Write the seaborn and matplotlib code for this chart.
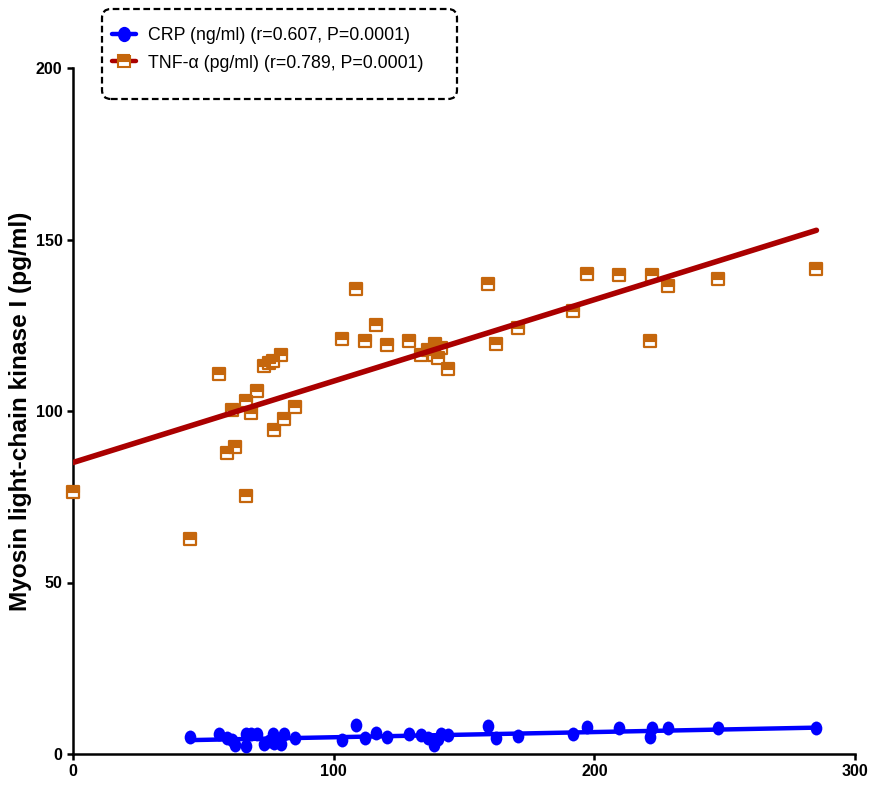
import numpy as np
import pandas as pd
import matplotlib
matplotlib.use("Agg")
import matplotlib.pyplot as plt
from matplotlib import font_manager
from matplotlib.path import Path
from matplotlib.lines import Line2D
from matplotlib.patches import FancyBboxPatch
import seaborn as sns

# ---------------- data ----------------
x_tnf = [0.0, 44.8, 55.9, 59.1, 61.0, 62.3, 66.4, 66.4, 68.4, 70.5, 73.4, 75.1, 76.6, 77.0,
         79.9, 81.1, 85.2, 103.2, 108.7, 111.9, 116.3, 120.5, 128.8, 133.5, 136.3, 138.9,
         141.2, 138.3, 140.2, 144.0, 159.1, 162.2, 170.9, 191.7, 197.0, 209.4, 222.2, 221.4,
         228.4, 247.4, 285.2]
y_tnf = [76.4, 62.6, 110.7, 87.9, 100.2, 89.5, 102.8, 75.2, 99.4, 105.8, 113.2, 113.9, 114.7,
         94.4, 116.3, 97.8, 101.1, 120.9, 135.7, 120.4, 125.2, 119.1, 120.5, 116.3, 117.9,
         119.4, 118.4, 116.2, 115.5, 112.2, 137.1, 119.5, 124.1, 129.3, 140.0, 139.6, 139.6,
         120.3, 136.4, 138.5, 141.3]
x_crp = [44.8, 55.9, 59.1, 61.0, 62.3, 66.4, 66.4, 68.4, 70.5, 73.4, 75.1, 76.6, 77.0,
         79.9, 81.1, 85.2, 103.2, 108.7, 111.9, 116.3, 120.5, 128.8, 133.5, 136.3, 138.9,
         141.2, 138.3, 140.2, 144.0, 159.1, 162.2, 170.9, 191.7, 197.0, 209.4, 222.2, 221.4,
         228.4, 247.4, 285.2]
y_crp = [4.95, 5.7, 4.7, 4.1, 2.5, 5.7, 2.3, 5.7, 5.7, 2.9, 3.8, 5.7, 3.3, 2.9, 5.7, 4.8,
         4.0, 8.5, 4.7, 6.2, 5.0, 5.7, 5.5, 4.6, 4.1, 5.9, 2.6, 4.5, 5.5, 8.2, 4.6, 5.2,
         5.7, 7.9, 7.5, 7.5, 5.0, 7.5, 7.5, 7.5]
labels = ["CRP (ng/ml) (r=0.607, P=0.0001)", "TNF-\u03b1 (pg/ml) (r=0.789, P=0.0001)"]
ylabel = "Myosin light-chain kinase I (pg/ml)"
xticks = [0, 100, 200, 300]
yticks = [0, 50, 100, 150, 200]

df_tnf = pd.DataFrame({"x": x_tnf, "y": y_tnf})
df_crp = pd.DataFrame({"x": x_crp, "y": y_crp})

# ---------------- style ----------------
sns.set_style("ticks")
names = {f.name for f in font_manager.fontManager.ttflist}
narrow = "Liberation Sans Narrow" in names
if narrow:
    plt.rcParams["font.family"] = ["Liberation Sans Narrow", "Liberation Sans", "DejaVu Sans"]
    tick_fs, leg_fs, lab_fs = 12.6, 15.2, 20
else:
    plt.rcParams["font.family"] = ["Liberation Sans", "DejaVu Sans"]
    tick_fs, leg_fs, lab_fs = 11.5, 12.8, 17.6
for k in ["text.color", "axes.labelcolor", "xtick.color", "ytick.color", "axes.edgecolor"]:
    plt.rcParams[k] = "black"

BLUE = "#0000ff"
ORANGE = "#c5660c"
DRED = "#aa0000"

fig = plt.figure(figsize=(8.74, 7.91), dpi=100)
ax = fig.add_axes([73 / 874, 37 / 791, (855 - 73) / 874, (754 - 68) / 791])

# custom marker shapes
ell = Path.unit_circle()
ell = Path(ell.vertices * np.array([0.84, 1.0]), ell.codes)
top_half = Path([(-1, 0), (1, 0), (1, 1), (-1, 1), (-1, 0)],
                [Path.MOVETO, Path.LINETO, Path.LINETO, Path.LINETO, Path.CLOSEPOLY])

# CRP
sns.regplot(data=df_crp, x="x", y="y", ax=ax, ci=None, scatter=False, truncate=True,
            line_kws=dict(color=BLUE, lw=3.2, zorder=3))
sns.scatterplot(data=df_crp, x="x", y="y", ax=ax, marker=ell, s=100, color=BLUE,
                edgecolor=BLUE, linewidth=0, zorder=4, clip_on=False, legend=False)

# TNF-alpha
sns.scatterplot(data=df_tnf, x="x", y="y", ax=ax, marker="s", s=68, color="white",
                edgecolor=ORANGE, linewidth=1.6, zorder=4, clip_on=False, legend=False)
sns.scatterplot(data=df_tnf, x="x", y="y", ax=ax, marker=top_half, s=68, color=ORANGE,
                edgecolor=ORANGE, linewidth=0.8, zorder=4, clip_on=False, legend=False)
sns.regplot(data=df_tnf, x="x", y="y", ax=ax, ci=None, scatter=False, truncate=True,
            line_kws=dict(color=DRED, lw=4.0, zorder=5))

# axes
ax.set_xlim(0, 300)
ax.set_ylim(0, 200)
ax.set_xticks(xticks)
ax.set_yticks(yticks)
ax.set_xlabel("")
ax.set_ylabel(ylabel, fontsize=lab_fs, fontweight="bold", color="black")
ax.yaxis.set_label_coords(-0.052, 0.5)
for sp in ["top", "right"]:
    ax.spines[sp].set_visible(False)
for sp in ["left", "bottom"]:
    ax.spines[sp].set_linewidth(1.8)
    ax.spines[sp].set_color("black")
ax.tick_params(direction="out", length=4.5, width=1.8, color="black", labelcolor="black",
               pad=3, labelsize=tick_fs)
for t in ax.get_xticklabels() + ax.get_yticklabels():
    t.set_fontweight("bold")

# legend
handles = [
    Line2D([], [], color=BLUE, lw=3.2, marker=ell, markersize=10, markerfacecolor=BLUE,
           markeredgecolor=BLUE),
    Line2D([], [], color=DRED, lw=3.2, marker="s", markersize=8.5, fillstyle="top",
           markerfacecolor=ORANGE, markerfacecoloralt="white", markeredgecolor=ORANGE,
           markeredgewidth=1.5),
]
leg = fig.legend(handles, labels, loc="upper left", bbox_to_anchor=(112 / 874, 1 - 27 / 791),
                 frameon=False, fontsize=leg_fs, handlelength=1.35, handletextpad=0.7,
                 labelspacing=0.6, borderpad=0, borderaxespad=0)
for t in leg.get_texts():
    t.set_color("black")
box = FancyBboxPatch((1.02, (791 - 99) / 100), 3.55, 0.90,
                     boxstyle="round,pad=0,rounding_size=0.09",
                     transform=fig.dpi_scale_trans, fill=False, edgecolor="black",
                     linestyle=(0, (3, 1.6)), linewidth=1.6)
fig.patches.append(box)

fig.savefig("out.png", dpi=100)
